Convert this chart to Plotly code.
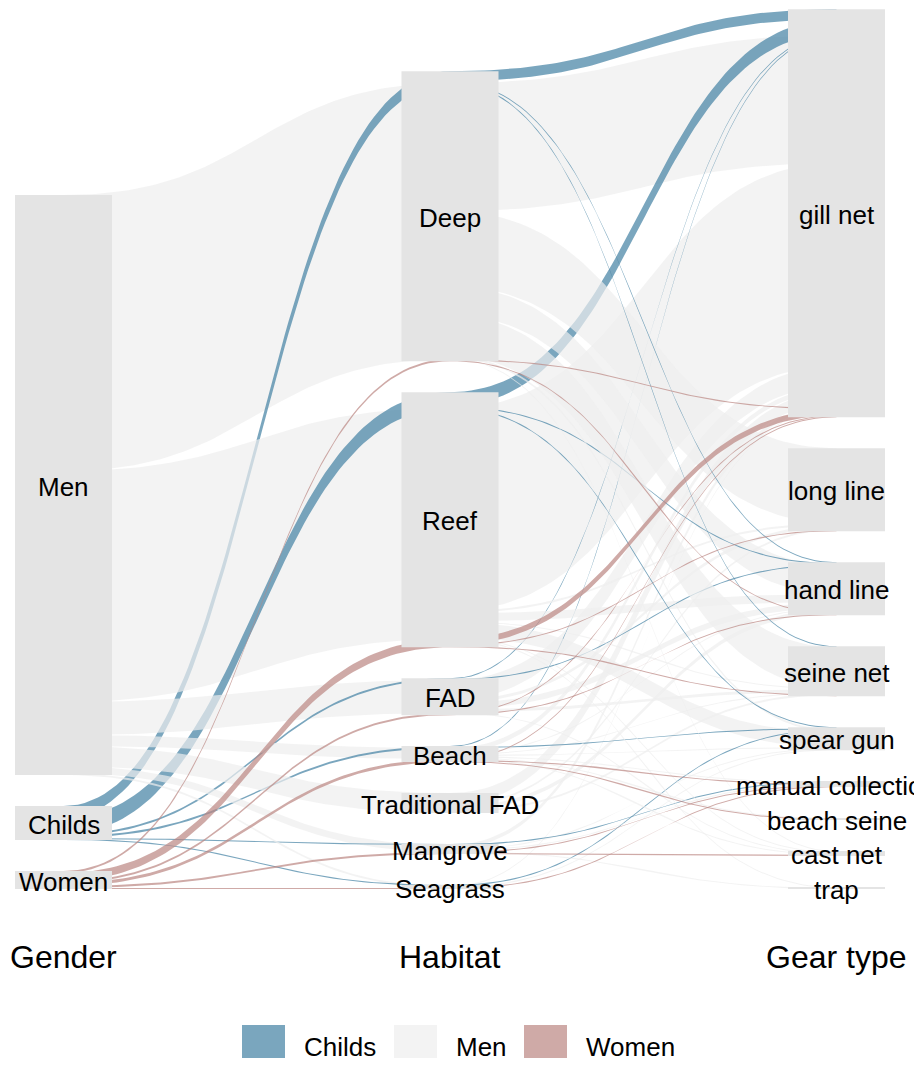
import numpy as np
import plotly.graph_objects as go

# ---------------- data ----------------
axis_titles = ["Gender", "Habitat", "Gear type"]
genders = ["Men", "Childs", "Women"]                 # order on the Gender axis (top -> bottom)
fill_levels = ["Childs", "Men", "Women"]             # legend / fill order
habitats = ["Deep", "Reef", "FAD", "Beach", "Traditional FAD", "Mangrove", "Seagrass"]
gears = ["gill net", "long line", "hand line", "seine net", "spear gun",
         "manual collection", "beach seine", "cast net", "trap"]

# counts by habitat, one value per gear (same order as `gears`)
childs_counts = {
    "Deep":            [10, 0, 1, 1, 0, 0, 0, 0, 0],
    "Reef":            [14, 0, 1, 0, 1, 0, 0, 0, 0],
    "FAD":             [1, 0, 1, 0, 0, 0, 0, 0, 0],
    "Beach":           [1, 0, 0, 0, 1, 0, 0, 0, 0],
    "Traditional FAD": [0, 0, 0, 0, 0, 0, 0, 0, 0],
    "Mangrove":        [0, 0, 0, 0, 0, 1, 0, 0, 0],
    "Seagrass":        [0, 0, 0, 0, 1, 0, 0, 0, 0],
}
men_counts = {
    "Deep":            [128, 75, 29, 41, 2, 0, 0, 1, 0],
    "Reef":            [203, 2, 8, 1, 15, 0, 0, 1, 1],
    "FAD":             [20, 3, 6, 3, 0, 0, 0, 1, 0],
    "Beach":           [5, 0, 1, 1, 1, 1, 1, 1, 0],
    "Traditional FAD": [12, 2, 4, 2, 0, 0, 0, 0, 0],
    "Mangrove":        [4, 0, 0, 0, 1, 1, 0, 0, 1],
    "Seagrass":        [1, 0, 0, 0, 1, 0, 0, 0, 0],
}
women_counts = {
    "Deep":            [1, 0, 1, 0, 0, 0, 0, 0, 0],
    "Reef":            [6, 1, 0, 1, 0, 0, 0, 0, 0],
    "FAD":             [1, 0, 1, 0, 0, 0, 0, 0, 0],
    "Beach":           [1, 0, 0, 0, 0, 1, 1, 0, 0],
    "Traditional FAD": [0, 0, 0, 0, 0, 0, 0, 0, 0],
    "Mangrove":        [0, 0, 0, 0, 0, 1, 0, 1, 0],
    "Seagrass":        [0, 0, 0, 0, 0, 1, 0, 0, 0],
}

# ---------------- style ----------------
fill_colors = {"Childs": "rgba(66,128,162,0.7)",
               "Men": "rgba(238,238,238,0.7)",
               "Women": "rgba(186,134,129,0.7)"}
box_color = "#E4E4E4"
FONT = "Liberation Sans, Arial, Helvetica, sans-serif"
W, H = 922, 1068
PAGE_OFF = 8                     # default body margin of the html page
X0_PX, DX_PX = 63.5, 386.5       # page pixel centre of first axis, spacing between axes
Y0_PX = 889                      # page pixel row of y = 0
half_w = 48.5 / DX_PX            # half width of strata boxes
sep_frac = 0.049                 # gap between strata as a fraction of total
top_layer = "Women"              # fill drawn above the others


def px2x(p):
    return (p - X0_PX) / DX_PX


def py2y(p):
    return Y0_PX - p


# ---------------- layout computation ----------------
tables = {"Childs": childs_counts, "Men": men_counts, "Women": women_counts}
records = []
for g in fill_levels:
    for h in habitats:
        for k, gear in enumerate(gears):
            v = tables[g][h][k]
            if v > 0:
                records.append((g, h, gear, v))
f_rank = {g: i for i, g in enumerate(fill_levels)}
g_rank = {g: i for i, g in enumerate(genders)}
h_rank = {h: i for i, h in enumerate(habitats)}
r_rank = {r: i for i, r in enumerate(gears)}
records.sort(key=lambda r: (f_rank[r[0]], h_rank[r[1]], r_rank[r[2]]))
total = sum(r[3] for r in records)
gap = sep_frac * total

axis_levels = [genders, habitats, gears]
strata = []   # per axis: dict level -> (bottom, top)
slots = []    # per axis: list of (top, bottom) per record
for a, levels in enumerate(axis_levels):
    tot = {lv: 0 for lv in levels}
    for r in records:
        tot[r[a]] += r[3]
    pos = {}
    cur = 0.0
    for lv in reversed(levels):
        pos[lv] = (cur, cur + tot[lv])
        cur += tot[lv] + gap
    strata.append(pos)
    cursor = {lv: pos[lv][1] for lv in levels}
    sl = []
    for r in records:
        t = cursor[r[a]]
        sl.append((t, t - r[3]))
        cursor[r[a]] = t - r[3]
    slots.append(sl)


def ribbon(xa, xb, ta, ba, tb, bb, n=80):
    t = np.linspace(0, 1, n)
    xm = (xa + xb) / 2
    bx = (1 - t) ** 3 * xa + 3 * (1 - t) ** 2 * t * xm + 3 * (1 - t) * t ** 2 * xm + t ** 3 * xb

    def by(p, q):
        return (1 - t) ** 3 * p + 3 * (1 - t) ** 2 * t * p + 3 * (1 - t) * t ** 2 * q + t ** 3 * q

    up, lo = by(ta, tb), by(ba, bb)
    return np.concatenate([bx, bx[::-1]]), np.concatenate([up, lo[::-1]])


# ribbons of segment 1 (Gender -> Habitat), merged per gender/habitat
seg1 = []
for g in fill_levels:
    for h in habitats:
        idx = [i for i, r in enumerate(records) if r[0] == g and r[1] == h]
        if not idx:
            continue
        seg1.append(((g == top_layer), h_rank[h], g_rank[g], g,
                     slots[0][idx[0]][0], slots[0][idx[-1]][1],
                     slots[1][idx[0]][0], slots[1][idx[-1]][1]))
seg1.sort(key=lambda s: (s[0], s[1], s[2]))

# ribbons of segment 2 (Habitat -> Gear type)
seg2 = []
for i, r in enumerate(records):
    seg2.append(((r[0] == top_layer), r_rank[r[2]], h_rank[r[1]], g_rank[r[0]], r[0],
                 slots[1][i][0], slots[1][i][1], slots[2][i][0], slots[2][i][1]))
seg2.sort(key=lambda s: (s[0], s[1], s[2], s[3]))

fig = go.Figure()
for s in seg1:
    xs, ys = ribbon(0, 1, s[4], s[5], s[6], s[7])
    fig.add_trace(go.Scatter(x=xs, y=ys, mode="lines", fill="toself",
                             fillcolor=fill_colors[s[3]], line=dict(width=0, color="rgba(0,0,0,0)"),
                             hoverinfo="skip", showlegend=False))
for s in seg2:
    xs, ys = ribbon(1, 2, s[5], s[6], s[7], s[8])
    fig.add_trace(go.Scatter(x=xs, y=ys, mode="lines", fill="toself",
                             fillcolor=fill_colors[s[4]], line=dict(width=0, color="rgba(0,0,0,0)"),
                             hoverinfo="skip", showlegend=False))

shapes = []
annotations = []
for a, levels in enumerate(axis_levels):
    for lv in levels:
        b, t = strata[a][lv]
        shapes.append(dict(type="rect", xref="x", yref="y", x0=a - half_w, x1=a + half_w,
                           y0=b, y1=t, fillcolor=box_color, line=dict(width=0), layer="above"))
        annotations.append(dict(x=a, y=(b + t) / 2 - 1.5, xref="x", yref="y", text=lv, showarrow=False,
                                font=dict(family=FONT, size=26, color="black"),
                                xanchor="center", yanchor="middle"))
    annotations.append(dict(x=a, y=py2y(957), xref="x", yref="y", text=axis_titles[a],
                            showarrow=False, font=dict(family=FONT, size=32, color="black"),
                            xanchor="center", yanchor="middle"))

# legend (manual, wide keys like ggplot)
key_left = [242, 394, 524]
for g, kl in zip(fill_levels, key_left):
    shapes.append(dict(type="rect", xref="x", yref="y", x0=px2x(kl), x1=px2x(kl + 43),
                       y0=py2y(1058), y1=py2y(1025), fillcolor=fill_colors[g],
                       line=dict(width=0), layer="above"))
    annotations.append(dict(x=px2x(kl + 60), y=py2y(1047), xref="x", yref="y", text=g,
                            showarrow=False, font=dict(family=FONT, size=26, color="black"),
                            xanchor="left", yanchor="middle"))

fig.update_layout(
    width=W, height=H,
    margin=dict(l=0, r=0, t=0, b=0),
    paper_bgcolor="white", plot_bgcolor="white",
    xaxis=dict(range=[px2x(PAGE_OFF), px2x(PAGE_OFF + W)], visible=False, fixedrange=True),
    yaxis=dict(range=[py2y(PAGE_OFF + H), py2y(PAGE_OFF)], visible=False, fixedrange=True),
    shapes=shapes, annotations=annotations, showlegend=False,
)

fig.write_html("out.html")
